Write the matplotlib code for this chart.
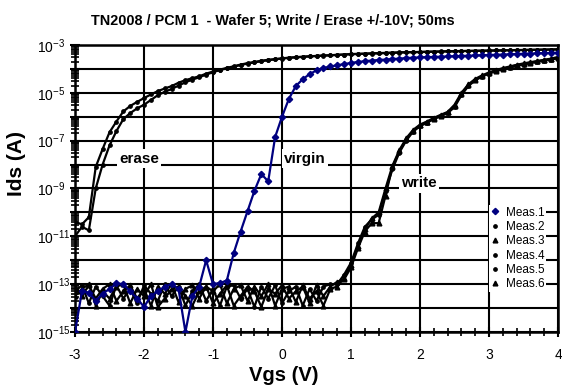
import numpy as np
import matplotlib
matplotlib.use('Agg')
import matplotlib.pyplot as plt
from matplotlib.lines import Line2D
from matplotlib.ticker import MultipleLocator, LogLocator, NullFormatter

plt.rcParams['font.family'] = ['Liberation Sans', 'DejaVu Sans']
plt.rcParams['mathtext.fontset'] = 'custom'
plt.rcParams['mathtext.rm'] = 'Liberation Sans'
plt.rcParams['axes.unicode_minus'] = False

# gate voltage sweep (V), 0.1 V steps
vgs = np.round(np.arange(-3.0, 4.01, 0.1), 1)

# log10(Ids)
meas1 = [-15.0, -13.3, -13.35, -13.7, -13.4, -13.2, -12.97, -13.0, -13.3, -13.6,
         -13.95, -13.5, -13.3, -13.1, -13.0, -13.2, -15.0, -13.5, -13.1, -12.0,
         -13.0, -12.95, -12.85, -11.7, -10.8, -9.95, -9.1, -8.4, -8.7, -6.85,
         -6.0, -5.25, -4.72, -4.43, -4.22, -4.06, -3.96, -3.9, -3.85, -3.8,
         -3.75, -3.71, -3.68, -3.65, -3.63, -3.61, -3.59, -3.57, -3.55, -3.53,
         -3.52, -3.51, -3.5, -3.49, -3.48, -3.47, -3.46, -3.45, -3.44, -3.43,
         -3.42, -3.41, -3.4, -3.39, -3.38, -3.37, -3.36, -3.35, -3.34, -3.33,
         -3.32]
meas2 = [-10.4, -10.5, -10.2, -8.1, -7.35, -6.65, -6.2, -5.78, -5.55, -5.38,
         -5.22, -5.07, -4.93, -4.82, -4.72, -4.58, -4.47, -4.39, -4.31, -4.2,
         -4.11, -4.03, -3.96, -3.89, -3.82, -3.76, -3.71, -3.66, -3.62, -3.59,
         -3.56, -3.53, -3.51, -3.49, -3.47, -3.46, -3.44, -3.43, -3.41, -3.4,
         -3.38, -3.37, -3.36, -3.35, -3.34, -3.33, -3.32, -3.31, -3.3, -3.3,
         -3.29, -3.28, -3.28, -3.27, -3.26, -3.26, -3.25, -3.25, -3.24, -3.24,
         -3.23, -3.23, -3.22, -3.22, -3.21, -3.21, -3.2, -3.2, -3.19, -3.19,
         -3.18]
meas4 = [-11.0, -10.6, -10.75, -9.0, -8.0, -7.2, -6.6, -6.1, -5.85, -5.65,
         -5.5, -5.3, -5.1, -4.96, -4.84, -4.7, -4.56, -4.45, -4.35, -4.24,
         -4.14, -4.05, -3.98, -3.91, -3.84, -3.78, -3.73, -3.68, -3.64, -3.6,
         -3.57, -3.54, -3.52, -3.5, -3.48, -3.46, -3.45, -3.43, -3.42, -3.4,
         -3.39, -3.38, -3.37, -3.36, -3.35, -3.34, -3.33, -3.32, -3.31, -3.3,
         -3.3, -3.29, -3.28, -3.28, -3.27, -3.27, -3.26, -3.25, -3.25, -3.24,
         -3.24, -3.23, -3.23, -3.22, -3.22, -3.21, -3.21, -3.2, -3.2, -3.19,
         -3.19]
meas3 = [-13.1, -13.5, -13.05, -13.6, -13.2, -13.0, -13.7, -13.3, -13.05, -13.6,
         -13.2, -13.9, -13.1, -13.4, -13.0, -13.75, -13.2, -13.05, -13.6, -13.1,
         -13.3, -13.0, -13.8, -13.2, -13.05, -13.7, -13.1, -13.5, -13.0, -13.9,
         -13.2, -13.1, -13.75, -13.05, -13.6, -13.3, -13.9, -13.2,
         -13.1, -12.75, -12.2, -11.4, -10.7, -10.25, -10.0, -9.0, -8.05, -7.4,
         -6.9, -6.55, -6.33, -6.2, -6.05, -5.92, -5.8, -5.5, -5.0, -4.65,
         -4.42, -4.27, -4.15, -4.05, -3.97, -3.9, -3.83, -3.77, -3.72, -3.67,
         -3.62, -3.57, -3.5]
meas5 = [-13.3, -13.05, -13.8, -13.1, -13.5, -13.9, -13.05, -13.6, -13.2, -13.8,
         -13.05, -13.4, -13.7, -13.0, -13.5, -13.1, -13.9, -13.3, -13.0, -13.7,
         -13.2, -13.9, -13.1, -13.05, -13.6, -13.2, -13.95, -13.1, -13.6, -13.05,
         -13.8, -13.3, -13.1, -13.9, -13.2, -13.7, -13.1, -13.0,
         -13.0, -12.6, -12.1, -11.3, -10.6, -10.3, -10.1, -9.1, -8.2, -7.5,
         -7.0, -6.62, -6.4, -6.25, -6.1, -5.98, -5.85, -5.6, -5.1, -4.72,
         -4.48, -4.32, -4.2, -4.1, -4.02, -3.95, -3.88, -3.82, -3.76, -3.71,
         -3.66, -3.61, -3.56]
meas6 = [-13.5, -13.2, -13.0, -13.9, -13.3, -13.6, -13.1, -13.0, -13.8, -13.2,
         -13.5, -13.0, -13.95, -13.6, -13.2, -13.1, -13.5, -13.9, -13.3, -13.1,
         -13.8, -13.4, -13.05, -13.9, -13.5, -13.1, -13.3, -13.95, -13.2, -13.4,
         -13.05, -13.6, -13.3, -13.1, -13.8, -13.05, -13.5, -13.1,
         -12.9, -12.8, -12.3, -11.5, -10.8, -10.45, -10.45, -9.3, -8.1, -7.45,
         -6.95, -6.6, -6.36, -6.22, -6.08, -5.95, -5.82, -5.55, -5.05, -4.68,
         -4.45, -4.3, -4.17, -4.07, -3.99, -3.92, -3.85, -3.79, -3.74, -3.69,
         -3.64, -3.59, -3.53]

labels = ['Meas.1', 'Meas.2', 'Meas.3', 'Meas.4', 'Meas.5', 'Meas.6']
series = [meas1, meas2, meas3, meas4, meas5, meas6]
colors = ['#000080', 'black', 'black', 'black', 'black', 'black']
markers = ['D', 'o', '^', 'o', 'o', '^']
msizes = [3.2, 2.4, 3.4, 2.4, 2.4, 3.4]

fig = plt.figure(figsize=(5.62, 3.85), dpi=100)
ax = fig.add_axes([0.1335, 0.1377, 0.8594, 0.7455])
ax.set_yscale('log')

# draw black ones first so the virgin curve sits on top
for i in [1, 2, 3, 4, 5, 0]:
    ax.plot(vgs, 10.0 ** np.array(series[i]), color=colors[i], lw=1.6,
            marker=markers[i], ms=msizes[i], zorder=2 + (i == 0))

ax.set_xlim(-3, 4)
ax.set_ylim(1e-15, 1e-3)
ax.xaxis.set_major_locator(MultipleLocator(1))
ax.xaxis.set_minor_locator(MultipleLocator(0.2))
ax.set_yticks([10.0 ** e for e in range(-15, -2)])
ax.set_yticklabels([r'$\mathregular{10^{%d}}$' % e if e % 2 else '' for e in range(-15, -2)])
ax.yaxis.set_minor_locator(LogLocator(base=10, subs=np.arange(2, 10), numticks=100))
ax.yaxis.set_minor_formatter(NullFormatter())

ax.set_axisbelow(True)
ax.grid(which='major', color='black', lw=1.5)
for s in ax.spines.values():
    s.set_linewidth(1.8)
ax.tick_params(which='major', direction='inout', length=7, width=1.5, labelsize=10)
ax.tick_params(which='minor', direction='inout', length=6, width=1.2)
ax.tick_params(axis='x', pad=8)
ax.tick_params(axis='y', pad=24, labelsize=10)
plt.setp(ax.get_yticklabels(), ha='left')

box = dict(facecolor='white', edgecolor='none', boxstyle='square,pad=0.15')
ax.text(-2.07, 10 ** -7.75, 'erase', ha='center', va='center', fontsize=11,
        fontweight='bold', bbox=box, zorder=4)
ax.text(0.33, 10 ** -7.75, 'virgin', ha='center', va='center', fontsize=11,
        fontweight='bold', bbox=box, zorder=4)
ax.text(1.99, 10 ** -8.78, 'write', ha='center', va='center', fontsize=11,
        fontweight='bold', bbox=box, zorder=4)

handles = [Line2D([], [], ls='none', color=colors[i], marker=markers[i], ms=msizes[i])
           for i in range(6)]
leg = ax.legend(handles, labels, loc='upper left', bbox_to_anchor=(0.857, 0.443),
                fontsize=8.5, frameon=True, fancybox=False, borderpad=0.15,
                handlelength=0.8, handletextpad=0.5, labelspacing=0.2,
                borderaxespad=0)
leg.get_frame().set_facecolor('white')
leg.get_frame().set_edgecolor('none')
leg.get_frame().set_alpha(1)

fig.text(0.486, 0.948, 'TN2008 / PCM 1  - Wafer 5; Write / Erase +/-10V; 50ms',
         ha='center', va='center', fontsize=10.4, fontweight='bold')
fig.text(0.03, 0.575, 'Ids (A)', rotation=90, ha='center', va='center',
         fontsize=15, fontweight='bold')
fig.text(0.505, 0.025, 'Vgs (V)', ha='center', va='center',
         fontsize=14.5, fontweight='bold')

fig.savefig('out.png', dpi=100)
